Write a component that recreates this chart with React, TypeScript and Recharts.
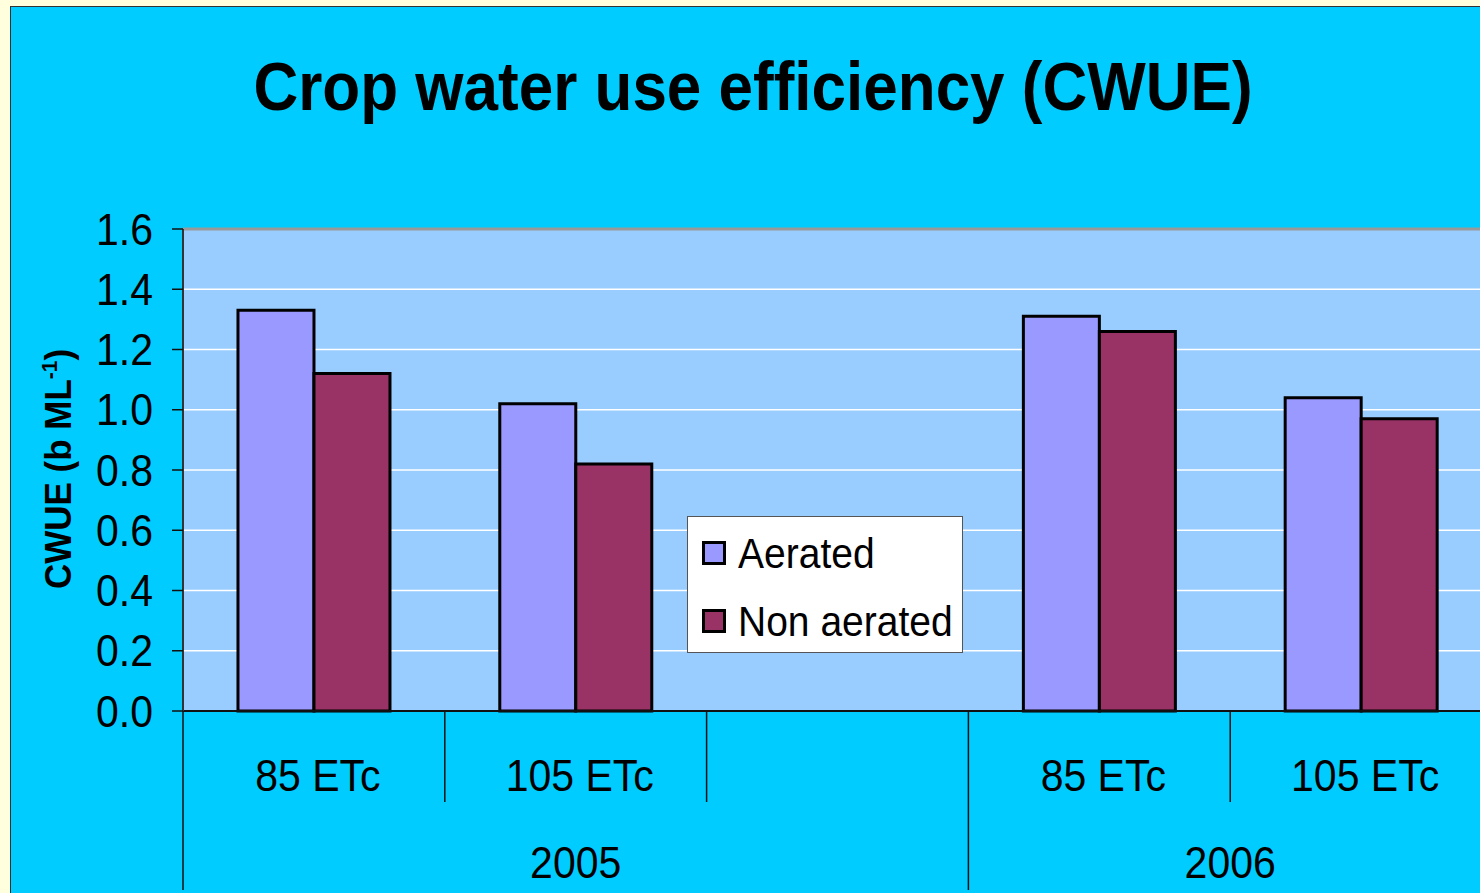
import React from "react";
import {
  BarChart,
  Bar,
  XAxis,
  YAxis,
  CartesianGrid,
  Legend,
  ReferenceLine,
} from "recharts";

const treatments = ["85 ETc", "105 ETc", "", "85 ETc", "105 ETc"];
const yearGroups = [
  { label: "2005", start: 0, count: 3 },
  { label: "2006", start: 3, count: 2 },
];
const aerated = [1.33, 1.02, null, 1.31, 1.04];
const nonAerated = [1.12, 0.82, null, 1.26, 0.97];
const yTicks = [0, 0.2, 0.4, 0.6, 0.8, 1.0, 1.2, 1.4, 1.6];

const data = treatments.map((t, i) => ({
  id: `c${i}`,
  aerated: aerated[i],
  nonAerated: nonAerated[i],
}));

const FONT = '"Liberation Sans", Arial, sans-serif';
const CHART_W = 1500;
const CHART_H = 893;
const MARGIN = { top: 229, right: 8, bottom: 0, left: 0 };
const Y_AXIS_W = 183;
const X_AXIS_H = 182;
const PLOT_W = CHART_W - MARGIN.left - MARGIN.right - Y_AXIS_W;
const BAND = PLOT_W / treatments.length;
const AXIS_Y = CHART_H - MARGIN.bottom - X_AXIS_H;
const LABEL_SIZE = 41;
const STRETCH = 1.07;

function CategoryTick(props: any) {
  const { x, index } = props;
  const left = x - BAND / 2;
  const group = yearGroups.find((g) => g.start === index);
  return (
    <g>
      <line
        x1={left}
        x2={left}
        y1={AXIS_Y}
        y2={group ? AXIS_Y + 179 : AXIS_Y + 91}
        stroke="#111"
        strokeWidth={1.5}
      />
      <text
        transform={`translate(${x + 4},${AXIS_Y + 64}) scale(1,${STRETCH})`}
        textAnchor="middle"
        dy="0.355em"
        fontSize={LABEL_SIZE}
        fontFamily={FONT}
        fill="#000"
      >
        {treatments[index]}
      </text>
      {group && (
        <text
          transform={`translate(${left + (group.count * BAND) / 2},${AXIS_Y + 151}) scale(1,${STRETCH})`}
          textAnchor="middle"
          dy="0.355em"
          fontSize={LABEL_SIZE}
          fontFamily={FONT}
          fill="#000"
        >
          {group.label}
        </text>
      )}
    </g>
  );
}

function ValueTick(props: any) {
  const { y, payload } = props;
  return (
    <text
      transform={`translate(153,${y}) scale(1,${STRETCH})`}
      textAnchor="end"
      dy="0.355em"
      fontSize={LABEL_SIZE}
      fontFamily={FONT}
      fill="#000"
    >
      {Number(payload.value).toFixed(1)}
    </text>
  );
}

function YLabel() {
  return (
    <text
      transform="translate(58,469) rotate(-90) scale(1,1.03)"
      textAnchor="middle"
      dy="0.355em"
      fontSize={35}
      fontWeight="bold"
      fontFamily={FONT}
      fill="#000"
    >
      CWUE (b ML
      <tspan fontSize={21} dy={-13}>
        -1
      </tspan>
      <tspan dy={13}>)</tspan>
    </text>
  );
}

function LegendBox(props: any) {
  const { payload } = props;
  return (
    <div
      style={{
        width: 276,
        height: 137,
        boxSizing: "border-box",
        background: "#fff",
        border: "1.5px solid #555",
        paddingTop: 2,
        paddingLeft: 14,
      }}
    >
      {(payload || []).map((item: any) => (
        <div
          key={item.value}
          style={{ display: "flex", alignItems: "center", height: 68 }}
        >
          <span
            style={{
              width: 18,
              height: 18,
              background: item.color,
              border: "3px solid #000",
              marginRight: 12,
            }}
          />
          <span
            style={{
              fontFamily: FONT,
              fontSize: 39,
              transform: `scaleY(${STRETCH})`,
              color: "#000",
              lineHeight: 1,
            }}
          >
            {item.value}
          </span>
        </div>
      ))}
    </div>
  );
}

export default function App() {
  return (
    <div
      style={{
        position: "absolute",
        left: 0,
        top: 0,
        width: 1480,
        height: 893,
        overflow: "hidden",
        background: "#FFFFDD",
      }}
    >
      <div
        style={{
          position: "absolute",
          left: 10,
          top: 6,
          width: 1500,
          height: 920,
          background: "#00CCFF",
          border: "1px solid #333",
        }}
      />
      <div style={{ position: "absolute", left: 0, top: 0 }}>
        <BarChart
          width={CHART_W}
          height={CHART_H}
          data={data}
          margin={MARGIN}
          barCategoryGap="21%"
          barGap={0}
        >
          <CartesianGrid
            vertical={false}
            stroke="#fff"
            strokeWidth={1.5}
            fill="#99CCFF"
          />
          <XAxis
            dataKey="id"
            height={X_AXIS_H}
            interval={0}
            tickLine={false}
            axisLine={{ stroke: "#111", strokeWidth: 2 }}
            tick={(p: any) => <CategoryTick {...p} />}
          />
          <YAxis
            width={Y_AXIS_W}
            domain={[0, 1.6]}
            ticks={yTicks}
            interval={0}
            tickSize={11}
            tickLine={{ stroke: "#111", strokeWidth: 1.5 }}
            axisLine={{ stroke: "#333", strokeWidth: 2 }}
            tick={(p: any) => <ValueTick {...p} />}
            label={{ content: () => <YLabel /> }}
          />
          <ReferenceLine y={1.6} stroke="#999" strokeWidth={3} />
          <Legend
            layout="vertical"
            align="center"
            verticalAlign="middle"
            content={(p: any) => <LegendBox {...p} />}
            wrapperStyle={{ left: 687, top: 516, width: 276, height: 137 }}
          />
          <Bar
            dataKey="aerated"
            name="Aerated"
            fill="#9999FF"
            stroke="#000"
            strokeWidth={3}
            isAnimationActive={false}
          />
          <Bar
            dataKey="nonAerated"
            name="Non aerated"
            fill="#993366"
            stroke="#000"
            strokeWidth={3}
            isAnimationActive={false}
          />
        </BarChart>
      </div>
      <div
        style={{
          position: "absolute",
          left: 0,
          top: 55,
          width: 1506,
          textAlign: "center",
          fontFamily: FONT,
          fontWeight: "bold",
          fontSize: 62,
          lineHeight: "62px",
          transform: "scaleY(1.12)",
          color: "#000",
          whiteSpace: "nowrap",
        }}
      >
        Crop water use efficiency (CWUE)
      </div>
    </div>
  );
}
